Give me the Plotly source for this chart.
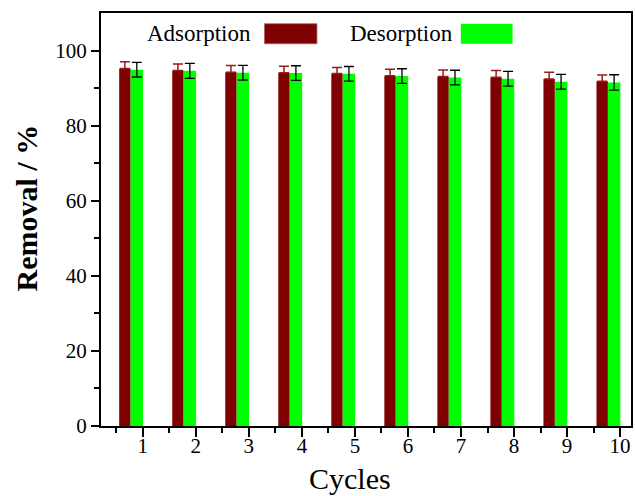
import plotly.graph_objects as go

cycles = [1, 2, 3, 4, 5, 6, 7, 8, 9, 10]
adsorption = [95.2, 94.7, 94.2, 94.1, 93.9, 93.3, 93.1, 92.9, 92.4, 91.8]
adsorption_err = [1.8, 1.7, 1.8, 1.7, 1.6, 1.7, 1.7, 1.8, 1.8, 1.7]
desorption = [94.9, 94.6, 94.1, 94.0, 93.8, 93.2, 92.8, 92.5, 91.7, 91.5]
desorption_err = [1.95, 2.0, 1.95, 1.95, 1.95, 1.95, 1.95, 1.95, 1.95, 2.05]
ytick_vals = [0, 20, 40, 60, 80, 100]

FONT = "Liberation Serif, Times New Roman, serif"
RED = "#7f0000"
GREEN = "#00ff00"

fig = go.Figure()
fig.add_trace(go.Bar(
    x=cycles, y=adsorption, width=0.215, offset=-0.445,
    marker=dict(color=RED, line=dict(width=0)),
    error_y=dict(type="data", array=adsorption_err, arrayminus=[0]*len(cycles),
                 color="#9a1a1a", thickness=1.5, width=5),
    name="Adsorption", showlegend=False,
))
fig.add_trace(go.Bar(
    x=cycles, y=desorption, width=0.235, offset=-0.23,
    marker=dict(color=GREEN, line=dict(width=0)),
    error_y=dict(type="data", array=desorption_err, color="black", thickness=1.3, width=5),
    name="Desorption", showlegend=False,
))

fig.update_layout(
    width=635, height=496,
    margin=dict(l=101, r=2, t=13, b=70),
    paper_bgcolor="white", plot_bgcolor="white",
    barmode="overlay",
    font=dict(family=FONT, color="black", size=20),
    xaxis=dict(
        range=[0.212, 10.206], tickvals=cycles, ticktext=[str(c) for c in cycles],
        ticks="outside", ticklen=9, tickwidth=1.5, tickcolor="black",
        ticklabelstandoff=-9,
        showline=True, linewidth=2, linecolor="black", mirror=True,
        showgrid=False, zeroline=False,
        minor=dict(tickvals=[c - 0.5 for c in cycles], ticks="outside", ticklen=5,
                   tickwidth=1.5, tickcolor="black"),
        tickfont=dict(size=21, family=FONT),
    ),
    yaxis=dict(
        range=[0, 110], tickvals=ytick_vals,
        ticks="outside", ticklen=8, tickwidth=1.5, tickcolor="black",
        showline=True, linewidth=2, linecolor="black", mirror=True,
        showgrid=False, zeroline=False,
        minor=dict(tickvals=[10, 30, 50, 70, 90], ticks="outside", ticklen=5,
                   tickwidth=1.5, tickcolor="black"),
        tickfont=dict(size=21, family=FONT),
    ),
    annotations=[
        dict(text="Cycles", xref="paper", yref="paper", x=(351 - 100.7) / 532.6,
             y=(426 - 478) / 412.7, xanchor="center", yanchor="middle",
             showarrow=False, font=dict(size=30, family=FONT)),
        dict(text="<b>Removal / %</b>", xref="paper", yref="paper",
             x=(26 - 100.7) / 532.6, y=(426 - 208) / 412.7, textangle=-90,
             xanchor="center", yanchor="middle", showarrow=False,
             font=dict(size=30, family=FONT)),
        dict(text="Adsorption", xref="paper", yref="paper", x=(253 - 100.7) / 532.6,
             y=(426 - 34) / 412.7, xanchor="right", yanchor="middle",
             showarrow=False, font=dict(size=23, family=FONT)),
        dict(text="Desorption", xref="paper", yref="paper", x=(456 - 100.7) / 532.6,
             y=(426 - 34) / 412.7, xanchor="right", yanchor="middle",
             showarrow=False, font=dict(size=23, family=FONT)),
    ],
    shapes=[
        dict(type="rect", xref="paper", yref="paper",
             x0=(265 - 100.7) / 532.6, x1=(317.7 - 100.7) / 532.6,
             y0=(426 - 44) / 412.7, y1=(426 - 24) / 412.7,
             fillcolor=RED, line=dict(color="#b06060", width=0.8)),
        dict(type="rect", xref="paper", yref="paper",
             x0=(462.3 - 100.7) / 532.6, x1=(514.3 - 100.7) / 532.6,
             y0=(426 - 44) / 412.7, y1=(426 - 24) / 412.7,
             fillcolor=GREEN, line=dict(width=0)),
    ],
)

fig.write_html("out.html")
